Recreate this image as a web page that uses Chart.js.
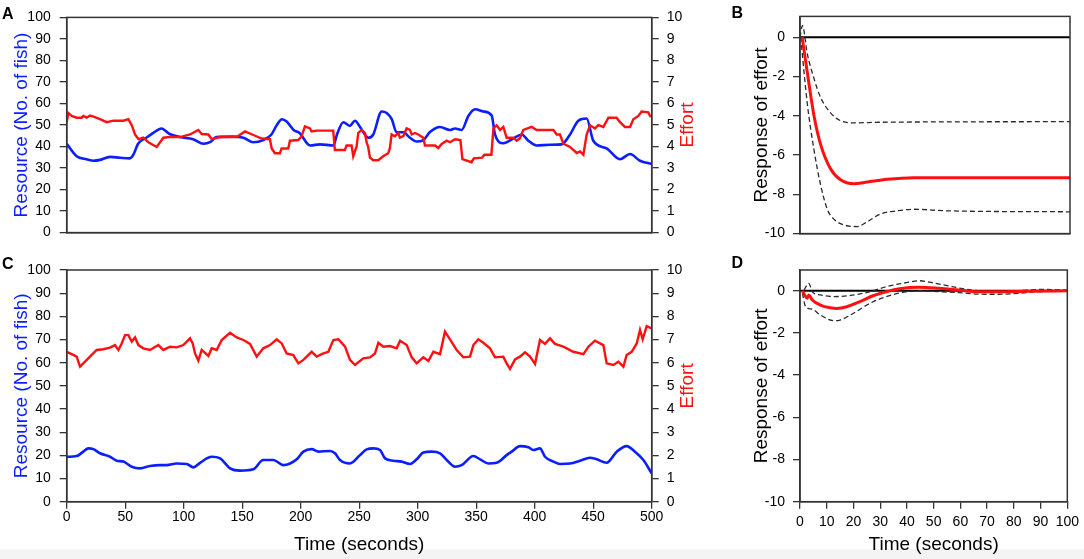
<!DOCTYPE html>
<html>
<head>
<meta charset="utf-8">
<script src="https://cdn.jsdelivr.net/npm/chart.js@4.4.1/dist/chart.umd.min.js"></script>
<style>
  html, body { margin: 0; padding: 0; background: #fff; }
  body { width: 1084px; height: 559px; position: relative; overflow: hidden; }
  canvas { position: absolute; }
  #band { position: absolute; left: 0; top: 549px; width: 1084px; height: 10px; background: #f4f4f4; }
</style>
</head>
<body>
<div id="band"></div>
<canvas id="chartA" width="720" height="250" style="left:0;top:0;width:720px;height:250px"></canvas>
<canvas id="chartB" width="364" height="250" style="left:720px;top:0;width:364px;height:250px"></canvas>
<canvas id="chartC" width="720" height="309" style="left:0;top:250px;width:720px;height:309px"></canvas>
<canvas id="chartD" width="364" height="309" style="left:720px;top:250px;width:364px;height:309px"></canvas>
<script>
// ---- data ----
// Panel A: resource (fish) and effort over time
const timeResA = [0, 8.5, 17, 23, 28.5, 37, 45.6, 54, 57, 61, 68, 74, 81, 88, 97, 108, 117, 122.5, 128, 142,
  151, 159.5, 168, 175, 179.5, 184, 188, 194, 199, 208, 216.5, 228, 231, 236.5, 242, 246.4, 250.7, 257.8, 262, 269.2,
  273.5, 277.8, 282, 287.7, 293.4, 299.1, 304.8, 310.5, 319, 327.6, 331.9, 337.6, 343.3, 349, 356.1, 363.2, 366.1, 373.2, 381.7, 388.9,
  394.6, 401.7, 413.1, 423.1, 430.2, 437.3, 444.4, 450.1, 461.5, 472.9, 481.5, 490, 500];
const resourceA = [41.3, 35.5, 34.1, 33.4, 33.8, 35.2, 34.8, 34.5, 36.2, 41.3, 44.1, 46.3, 48.4, 45.8, 44.4, 43.4, 41.3, 42.0, 44.4, 44.6,
  44.1, 42.0, 43.0, 45.6, 49.9, 52.7, 51.6, 47.7, 46.3, 40.5, 41.0, 40.5, 45.6, 51.3, 49.6, 52.0, 49.1, 44.1, 45.6, 56.3,
  55.6, 52.7, 46.6, 46.6, 44.1, 42.3, 43.0, 46.7, 49.1, 47.7, 48.4, 47.7, 54.2, 57.3, 56.3, 54.4, 45.6, 41.5, 43.7, 45.6,
  42.7, 40.5, 40.8, 41.0, 45.6, 52.0, 53.0, 42.7, 39.1, 34.1, 36.5, 33.4, 31.9];
const timeEffA = [0, 1.4, 4.3, 8.5, 12.8, 14.2, 17, 20, 22.8, 28.5, 34.2, 39.9, 48.4, 52.7, 55.6, 58.4, 61.3, 65.5, 69.8, 76.9,
  82.6, 88.3, 96.9, 105.4, 112.5, 115.4, 121.1, 123.9, 131.1, 145.3, 152.4, 161, 166.6, 173.7, 175.2, 178, 182.2, 183.7, 189.4, 190.8,
  197.9, 200.8, 203.6, 207.9, 209.3, 213.6, 227.8, 229.2, 237.8, 239.2, 243.5, 244.9, 247.8, 249.2, 252, 254.9, 256.3, 257.7, 259.2, 262,
  266.3, 270.5, 274.8, 276.2, 277.7, 280.5, 283.4, 284.8, 287.7, 290.5, 293.4, 294.8, 297.6, 300.5, 304.8, 306.2, 314.8, 317.6, 320.5, 324.8,
  327.6, 331.9, 336.5, 338.2, 346, 348, 355, 357, 363, 364.7, 367.5, 370.4, 373.2, 376, 381.7, 384.6, 387.4, 390.3, 397.4, 401.7,
  410, 416, 418.8, 421.6, 424.5, 430.2, 433, 435.9, 438.7, 441.6, 444.4, 447.3, 451.5, 454.4, 458.7, 463, 470, 472.9, 477.2, 481.5,
  484.3, 488.6, 491.4, 497.1, 498.6, 500];
const effortA = [5.13, 5.56, 5.42, 5.34, 5.34, 5.42, 5.34, 5.44, 5.39, 5.27, 5.13, 5.2, 5.2, 5.27, 4.99, 4.56, 4.34, 4.41, 4.2, 3.98,
  4.41, 4.44, 4.44, 4.56, 4.77, 4.58, 4.56, 4.34, 4.44, 4.44, 4.7, 4.5, 4.37, 4.34, 3.91, 3.69, 3.69, 3.91, 3.91, 4.27,
  4.3, 4.48, 4.94, 4.84, 4.70, 4.74, 4.74, 3.84, 3.84, 4.05, 4.05, 3.55, 4.0, 4.63, 4.77, 4.63, 4.2, 3.98, 3.48, 3.36,
  3.36, 3.55, 3.69, 3.91, 4.56, 4.48, 4.63, 4.41, 4.48, 4.84, 4.77, 4.56, 4.63, 4.56, 4.41, 4.05, 4.05, 3.93, 4.12, 4.27,
  4.2, 4.34, 4.3, 3.41, 3.27, 3.45, 3.48, 3.62, 3.62, 4.84, 4.99, 4.77, 4.91, 4.41, 4.41, 4.27, 4.39, 4.77, 4.91, 4.77,
  4.77, 4.77, 4.56, 4.56, 4.13, 3.98, 3.84, 3.7, 3.77, 3.62, 4.56, 4.99, 4.84, 4.99, 4.91, 5.34, 5.34, 5.13, 4.91, 4.91,
  5.27, 5.42, 5.63, 5.59, 5.42, 5.42];

// Panel C
const timeResC = [0, 8.5, 14.2, 18.5, 22.8, 28.5, 37, 42.7, 48.4, 55.6, 62.7, 71.2, 79.8, 85.5, 94, 102.6, 108.3, 114, 123.9, 131.1,
  139.6, 148.1, 159.5, 168, 176.6, 185.2, 190.9, 196.6, 202.3, 209.4, 215.1, 225.1, 229.3, 233.6, 242.1, 250.7, 256.4, 262.1, 267.8, 272.1,
  279.2, 286.3, 293.4, 299.1, 304.8, 311.9, 319.1, 324.8, 331.9, 337.6, 347.6, 353.3, 360.4, 367.5, 376, 380.3, 387.4, 394.6, 398.8, 404.5,
  408.8, 416, 421.6, 430.2, 438.7, 447.3, 453, 461.5, 470.1, 478.6, 485.7, 492.9, 500];
const resourceC = [19.4, 19.7, 21.6, 23.0, 22.7, 20.9, 19.4, 17.7, 17.3, 15.1, 14.4, 15.4, 15.8, 15.8, 16.5, 16.3, 14.8, 16.8, 19.4, 18.7,
  14.4, 13.4, 14.0, 18.0, 18.0, 15.8, 16.5, 18.3, 21.6, 22.7, 21.6, 21.9, 20.9, 18.0, 16.5, 20.1, 22.6, 23.0, 22.3, 18.7,
  17.7, 17.3, 16.3, 18.3, 21.2, 21.6, 20.9, 18.0, 15.1, 15.8, 19.7, 18.3, 16.5, 16.8, 20.1, 21.6, 24.0, 23.5, 22.3, 23.0,
  19.4, 17.3, 16.3, 16.5, 17.7, 19.0, 18.3, 16.8, 21.6, 24.0, 21.6, 18.0, 12.2];
const timeEffC = [0, 4.3, 8.5, 11.4, 14.2, 19.9, 25.6, 31.3, 37, 41.3, 44.2, 47, 49.9, 52.7, 55.6, 58.4, 61.3, 65.5, 71.2, 78.3,
  82.6, 88.3, 94, 99.7, 105.4, 107.7, 109.7, 112.5, 115.4, 121.1, 123.9, 128.2, 132.5, 139.6, 145.3, 151, 156.7, 162.4, 168, 173.8,
  179.5, 183.8, 188, 193.7, 198, 202.3, 209.4, 213.7, 219.4, 223.6, 227.9, 232.2, 237.9, 242.1, 246.4, 253.5, 259.2, 263.5, 266.4, 270.6,
  276.3, 282, 284.9, 290.6, 294.9, 299.1, 304.8, 309.1, 313.4, 319.1, 323.3, 327.6, 333.3, 339, 344.7, 347.6, 351.8, 356.1, 361.8, 366.1,
  373.2, 376, 378.9, 383.2, 387.4, 391.7, 396, 400.3, 404.5, 408.8, 413.1, 417.4, 424.5, 433, 441.6, 445.9, 451.5, 458.7, 461.5, 467.2,
  471.5, 475.8, 478.6, 482.9, 487.2, 490, 492.3, 495.7, 500];
const effortC = [6.47, 6.37, 6.26, 5.83, 5.97, 6.26, 6.55, 6.58, 6.65, 6.76, 6.55, 6.83, 7.19, 7.19, 6.91, 7.09, 6.76, 6.62, 6.55, 6.76,
  6.55, 6.69, 6.66, 6.76, 7.05, 6.83, 6.4, 6.09, 6.55, 6.29, 6.62, 6.55, 6.98, 7.29, 7.09, 6.98, 6.81, 6.26, 6.62, 6.76,
  7.01, 6.83, 6.4, 6.33, 5.97, 6.12, 6.47, 6.26, 6.4, 6.47, 6.98, 7.01, 6.69, 6.12, 5.9, 6.19, 6.23, 6.4, 6.86, 6.69,
  6.72, 6.62, 6.95, 6.76, 6.23, 5.97, 6.23, 6.07, 6.47, 6.37, 7.34, 7.01, 6.55, 6.23, 6.26, 6.76, 7.01, 6.86, 6.62, 6.23,
  6.26, 5.97, 5.73, 6.14, 6.26, 6.45, 6.26, 5.94, 6.98, 6.81, 7.05, 6.81, 6.69, 6.47, 6.37, 6.69, 6.95, 6.76, 5.97, 5.9,
  6.04, 5.83, 6.33, 6.47, 6.83, 7.41, 7.01, 7.58, 7.48];

// Panel B: impulse response of effort with confidence bounds
const lagB = [0.8, 2.7, 5.2, 7.6, 11.3, 15, 20, 24.9, 32.3, 42.1, 60, 100];
const responseB = [0, -1.79, -4.01, -5.44, -6.70, -7.26, -7.46, -7.37, -7.23, -7.15, -7.15, -7.15];
const lagUpperB = [0, 0.9, 2.7, 5.2, 7.6, 11.3, 15, 20, 29.8, 100];
const upperB = [0, 0.59, -0.84, -2.11, -3.06, -3.85, -4.25, -4.36, -4.33, -4.3];
const lagLowerB = [0.25, 2.7, 5.2, 7.6, 10.1, 12.6, 16.3, 21.2, 24.9, 29.8, 36, 42.1, 54.4, 100];
const lowerB = [0, -3.38, -5.75, -7.5, -8.76, -9.27, -9.56, -9.64, -9.4, -9.0, -8.84, -8.76, -8.84, -8.89];

// Panel D
const lagD = [0.9, 1.7, 2.7, 3.3, 4.6, 7.6, 11.3, 13.8, 17.5, 22.4, 27.3, 32.3, 37.2, 44.6, 52, 59.4, 66.7, 74.1, 85.2, 100];
const responseD = [0, -0.2, -0.36, -0.2, -0.44, -0.68, -0.81, -0.84, -0.76, -0.52, -0.24, -0.05, 0.09, 0.16, 0.11, 0.03, -0.05, -0.05, -0.03, 0];
const lagUpperD = [1.5, 3.3, 4.6, 7.6, 12.6, 17.5, 24.9, 32.3, 39.7, 44.6, 49.5, 56.9, 64.3, 71.7, 79.1, 91.4, 100];
const upperD = [0.03, 0.35, -0.05, -0.2, -0.28, -0.25, -0.09, 0.19, 0.38, 0.47, 0.38, 0.19, 0.03, -0.05, -0.02, 0.06, 0.03];
const lagLowerD = [0.9, 2.1, 4.6, 7.6, 12.6, 15, 20, 26.1, 32.3, 39.7, 44.6, 52, 59.4, 66.7, 74.1, 81.5, 88.9, 100];
const lowerD = [-0.13, -0.76, -0.88, -1.15, -1.42, -1.39, -1.07, -0.6, -0.28, -0.05, 0, -0.05, -0.09, -0.16, -0.17, -0.13, -0.05, 0];

const zeroLag = [0, 100];
const zeroVal = [0, 0];

// tick labels
const resourceTicks = [0, 10, 20, 30, 40, 50, 60, 70, 80, 90, 100];
const effortTicks = [0, 1, 2, 3, 4, 5, 6, 7, 8, 9, 10];
const responseTicks = [-10, -8, -6, -4, -2, 0];
const timeTicks = [0, 50, 100, 150, 200, 250, 300, 350, 400, 450, 500];
const lagTicks = [0, 10, 20, 30, 40, 50, 60, 70, 80, 90, 100];

// ---- styling ----
const BLUE = '#0a1eff';
const RED = '#ff1010';
const AXIS = '#333333';
const FONT = '"Liberation Sans", Arial, Helvetica, sans-serif';

function pts(xs, ys) {
  return xs.map((x, i) => ({ x: x, y: ys[i] }));
}

function setTicks(values) {
  return scale => { scale.ticks = values.map(v => ({ value: v })); };
}

const framePlugin = {
  id: 'frame',
  afterDatasetsDraw(chart) {
    const { ctx, chartArea: a } = chart;
    ctx.save();
    ctx.strokeStyle = AXIS;
    ctx.lineWidth = 1.5;
    ctx.strokeRect(a.left, a.top, a.right - a.left, a.bottom - a.top);
    ctx.restore();
  }
};

// panel letters and the right-hand "Effort" label (reads bottom to top)
const extraText = {
  id: 'extraText',
  afterDraw(chart, args, opts) {
    const ctx = chart.ctx;
    const a = chart.chartArea;
    if (opts.letter) {
      ctx.save();
      ctx.font = 'bold 16px ' + FONT;
      ctx.fillStyle = '#000';
      ctx.textBaseline = 'alphabetic';
      ctx.fillText(opts.letter, opts.letterX, opts.letterY);
      ctx.restore();
    }
    if (opts.rightTitle) {
      ctx.save();
      ctx.font = '19px ' + FONT;
      ctx.fillStyle = RED;
      ctx.translate(opts.rightTitleX, (a.top + a.bottom) / 2);
      ctx.rotate(-Math.PI / 2);
      ctx.textAlign = 'center';
      ctx.textBaseline = 'middle';
      ctx.fillText(opts.rightTitle, 0, 0);
      ctx.restore();
    }
  }
};

function yAxis(opts) {
  return {
    type: 'linear',
    position: opts.position || 'left',
    min: opts.min,
    max: opts.max,
    afterBuildTicks: setTicks(opts.ticks),
    afterFit: s => { s.width = opts.width; },
    ticks: { color: '#000', font: { family: FONT, size: 14 }, padding: opts.pad, autoSkip: false },
    grid: { drawOnChartArea: false, drawTicks: true, tickLength: 7, color: AXIS, lineWidth: 1.3 },
    border: { color: AXIS, width: 1.5 },
    title: opts.title ? {
      display: true, text: opts.title, color: opts.titleColor || '#000',
      font: { family: FONT, size: 19 }, padding: { top: opts.titlePad, bottom: 0 }
    } : { display: false }
  };
}

function xAxis(opts) {
  const withTicks = !!opts.ticks;
  return {
    type: 'linear',
    min: opts.min,
    max: opts.max,
    afterBuildTicks: withTicks ? setTicks(opts.ticks) : undefined,
    afterFit: s => { s.height = opts.height; },
    ticks: { display: withTicks, color: '#000', font: { family: FONT, size: 14 }, padding: opts.pad || 0, maxRotation: 0, autoSkip: false },
    grid: { display: withTicks, drawOnChartArea: false, drawTicks: withTicks, tickLength: 7, color: AXIS, lineWidth: 1.3 },
    border: { color: AXIS, width: 1.5 },
    title: opts.title ? {
      display: true, text: opts.title, color: '#000',
      font: { family: FONT, size: 19 }, padding: { top: 0, bottom: 3 }
    } : { display: false }
  };
}

const baseOptions = {
  responsive: false,
  animation: false,
  events: [],
  plugins: { legend: { display: false }, tooltip: { enabled: false } },
  elements: { point: { radius: 0 } }
};

function seriesChart(id, tRes, res, tEff, eff, letter, showTime, pad) {
  new Chart(document.getElementById(id), {
    type: 'line',
    data: {
      datasets: [
        { label: 'Effort', data: pts(tEff, eff), yAxisID: 'yR', borderColor: RED, borderWidth: 2.4, tension: 0 },
        { label: 'Resource', data: pts(tRes, res), yAxisID: 'y', borderColor: BLUE, borderWidth: 2.6, cubicInterpolationMode: 'monotone' }
      ]
    },
    options: Object.assign({}, baseOptions, {
      layout: { padding: pad },
      plugins: Object.assign({}, baseOptions.plugins, {
        extraText: { letter: letter, letterX: 2, letterY: 18.5, rightTitle: 'Effort', rightTitleX: 688 }
      }),
      scales: {
        x: xAxis(showTime
          ? { min: 0, max: 500, ticks: timeTicks, height: 57.3, title: 'Time (seconds)', pad: 0 }
          : { min: 0, max: 500, height: 0 }),
        y: yAxis({ min: 0, max: 100, ticks: resourceTicks, width: 66.7, pad: 9, title: 'Resource (No. of fish)', titleColor: BLUE, titlePad: 10.5 }),
        yR: yAxis({ position: 'right', min: 0, max: 10, ticks: effortTicks, width: 68.3, pad: 8 })
      }
    }),
    plugins: [framePlugin, extraText]
  });
}

function responseChart(id, lag, resp, lagU, up, lagL, low, letter, ymax, showTime, pad) {
  const dashed = { borderColor: '#2a2a2a', borderWidth: 1.3, borderDash: [5, 3], cubicInterpolationMode: 'monotone' };
  new Chart(document.getElementById(id), {
    type: 'line',
    data: {
      datasets: [
        { label: 'Response', data: pts(lag, resp), borderColor: RED, borderWidth: 3, cubicInterpolationMode: 'monotone' },
        Object.assign({ label: 'Upper', data: pts(lagU, up) }, dashed),
        Object.assign({ label: 'Lower', data: pts(lagL, low) }, dashed),
        { label: 'Zero', data: pts(zeroLag, zeroVal), borderColor: '#000', borderWidth: 2 }
      ]
    },
    options: Object.assign({}, baseOptions, {
      layout: { padding: pad },
      plugins: Object.assign({}, baseOptions.plugins, {
        extraText: { letter: letter, letterX: 11.5, letterY: 17.5 }
      }),
      scales: {
        x: xAxis(showTime
          ? { min: 0, max: 100, ticks: lagTicks, height: 57.3, title: 'Time (seconds)', pad: 5 }
          : { min: 0, max: 100, height: 0 }),
        y: yAxis({ min: -10, max: ymax, ticks: responseTicks, width: 80, pad: 8, title: 'Response of effort', titlePad: 30 })
      }
    }),
    plugins: [framePlugin, extraText]
  });
}

seriesChart('chartA', timeResA, resourceA, timeEffA, effortA, 'A', false, { top: 7, bottom: 11, left: 0, right: 0 });
seriesChart('chartC', timeResC, resourceC, timeEffC, effortC, 'C', true, { top: 20, bottom: 0, left: 0, right: 0 });
responseChart('chartB', lagB, responseB, lagUpperB, upperB, lagLowerB, lowerB, 'B', 1.06, false, { top: 7, bottom: 11, left: 0, right: 14 });
responseChart('chartD', lagD, responseD, lagUpperD, upperD, lagLowerD, lowerD, 'D', 0.98, true, { top: 20, bottom: 0, left: 0, right: 14 });
</script>
</body>
</html>
